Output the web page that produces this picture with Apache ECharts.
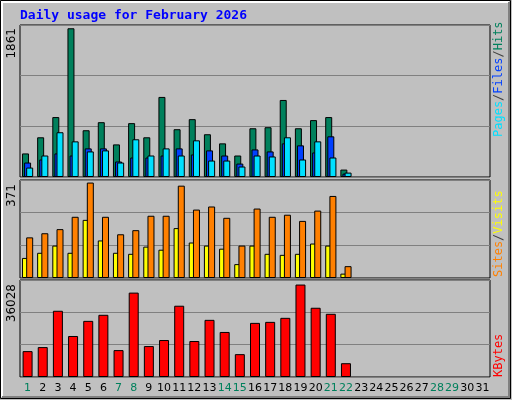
<!DOCTYPE html>
<html><head><meta charset="utf-8">
<script src="https://cdn.jsdelivr.net/npm/echarts@6/dist/echarts.min.js"></script>
<style>html,body{margin:0;padding:0;background:#c0c0c0}#c{width:512px;height:400px}</style>
</head><body><div id="c"></div>
<script>
const days = Array.from({ length: 31 }, (_, i) => String(i + 1));
const weekend = [1, 7, 8, 14, 15, 21, 22, 28, 29];
const hits = [295,497,750,1861,585,686,408,674,497,1002,598,724,535,421,269,610,623,964,610,712,750,93];
const files = [181,219,295,269,358,358,194,244,244,269,358,282,333,269,168,345,320,421,396,307,509,42];
const pages = [118,269,560,446,320,333,181,472,269,358,269,459,206,206,131,269,257,497,219,446,244,55];
const visits = [78,98,126,98,226,146,98,94,122,110,194,138,126,114,54,126,94,90,94,134,126,17];
const sites = [158,174,190,238,371,238,170,186,242,242,359,266,278,234,126,270,238,246,222,262,319,46];
const kbytes = [10088,11659,25807,15982,21877,24235,10480,32881,12052,14410,27772,14017,22270,17554,8908,21091,21484,23056,36028,26986,24628,5371];

const chart = echarts.init(document.getElementById("c"));
const mono = "DejaVu Sans Mono";
const border = { borderColor: "#000", borderWidth: 1 };
const yAx = (idx, max, interval) => ({
  gridIndex: idx, min: 0, max: max, interval: interval,
  axisLabel: { show: false }, axisLine: { show: false }, axisTick: { show: false },
  splitLine: { lineStyle: { color: "#808080", width: 1 } },
});
const xAx = (idx, show) => ({
  gridIndex: idx, type: "category", data: days,
  axisLine: { show: false }, axisTick: { show: false },
  axisLabel: show ? {
    interval: 0, margin: 6, fontFamily: "DejaVu Sans", fontSize: 11,
    formatter: (v) => (weekend.includes(+v) ? "{g|" + v + "}" : "{b|" + v + "}"),
    rich: { g: { color: "#00805c", fontSize: 11 }, b: { color: "#000", fontSize: 11 } },
  } : { show: false },
});
const vlabel = (x, y, parts) => ({
  type: "text", x: x, y: y, rotation: Math.PI / 2,
  style: {
    text: parts.map((p) => "{" + p[1] + "|" + p[0] + "}").join(""),
    font: "12px " + mono,
    rich: Object.fromEntries(parts.map((p) => [p[1], { fill: p[2], font: "12px " + mono }])),
  },
});
const sep = "#404040";
chart.setOption({
  backgroundColor: "#c0c0c0",
  animation: false,
  grid: [
    { left: 20, top: 25, width: 470, height: 152, show: true, backgroundColor: "#c0c0c0", borderColor: "#000" },
    { left: 20, top: 180, width: 470, height: 98, show: true, backgroundColor: "#c0c0c0", borderColor: "#000" },
    { left: 20, top: 280, width: 470, height: 97, show: true, backgroundColor: "#c0c0c0", borderColor: "#000" },
  ],
  xAxis: [xAx(0, false), xAx(1, false), xAx(2, true)],
  yAxis: [yAx(0, 1902, 634), yAx(1, 381, 127), yAx(2, 37800, 12600)],
  series: [
    { type: "bar", xAxisIndex: 0, yAxisIndex: 0, data: hits, barWidth: 7, barGap: "-70%", itemStyle: { color: "#00805c", ...border } },
    { type: "bar", xAxisIndex: 0, yAxisIndex: 0, data: files, barWidth: 7, barGap: "-70%", itemStyle: { color: "#0040ff", ...border } },
    { type: "bar", xAxisIndex: 0, yAxisIndex: 0, data: pages, barWidth: 7, barGap: "-70%", itemStyle: { color: "#00e0ff", ...border } },
    { type: "bar", xAxisIndex: 1, yAxisIndex: 1, data: visits, barWidth: 7, barGap: "-40%", itemStyle: { color: "#ffff00", ...border } },
    { type: "bar", xAxisIndex: 1, yAxisIndex: 1, data: sites, barWidth: 7, barGap: "-40%", itemStyle: { color: "#ff8000", ...border } },
    { type: "bar", xAxisIndex: 2, yAxisIndex: 2, data: kbytes, barWidth: 10, itemStyle: { color: "#ff0000", ...border } },
  ],
  graphic: [
    { type: "rect", shape: { x: 0.5, y: 0.5, width: 510, height: 398 }, style: { fill: null, stroke: "#000" }, silent: true },
    { type: "polyline", shape: { points: [[2, 397], [2, 2], [509, 2]] }, style: { stroke: "#fff", lineWidth: 2, fill: null } },
    { type: "polyline", shape: { points: [[2, 397], [509, 397], [509, 2]] }, style: { stroke: "#808080", lineWidth: 2, fill: null } },
    { type: "text", x: 20, y: 9, style: { text: "Daily usage for February 2026", font: "bold 13px " + mono, fill: "#0000ff" } },
    { type: "text", x: 6, y: 28, rotation: Math.PI / 2, style: { text: "1861", font: "12px DejaVu Sans", fill: "#000", align: "right", verticalAlign: "top" } },
    { type: "text", x: 6, y: 184, rotation: Math.PI / 2, style: { text: "371", font: "12px DejaVu Sans", fill: "#000", align: "right", verticalAlign: "top" } },
    { type: "text", x: 6, y: 284, rotation: Math.PI / 2, style: { text: "36028", font: "12px DejaVu Sans", fill: "#000", align: "right", verticalAlign: "top" } },
    vlabel(493, 137, [["Pages", "a", "#00e0ff"], ["/", "s", sep], ["Files", "b", "#0040ff"], ["/", "t", sep], ["Hits", "c", "#00805c"]]),
    vlabel(493, 277, [["Sites", "a", "#ff8000"], ["/", "s", sep], ["Visits", "b", "#ffff00"]]),
    vlabel(493, 377, [["KBytes", "a", "#ff0000"]]),
  ].map((g) => (g.type === "text" && g.rotation && g.x === 493 ? { ...g, rotation: Math.PI / 2, style: { ...g.style, align: "left", verticalAlign: "top" } } : g)),
});
</script></body></html>
